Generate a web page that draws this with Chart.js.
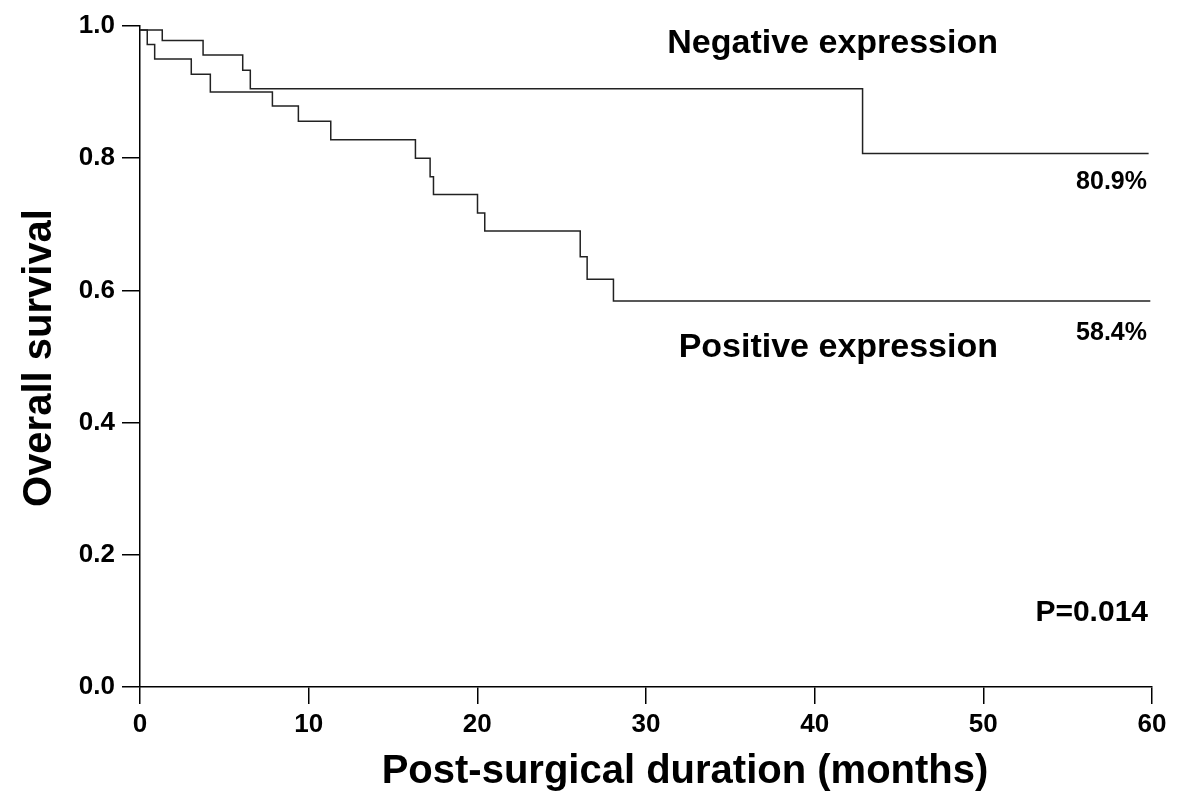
<!DOCTYPE html>
<html lang="en">
<head>
<meta charset="UTF-8">
<title>Overall survival</title>
<script src="https://cdn.jsdelivr.net/npm/chart.js"></script>
<style>
  body { margin: 0; background: #fff; }
  canvas { display: block; }
</style>
</head>
<body>
<canvas id="myChart" width="1183" height="802"></canvas>
<script>
    // Kaplan-Meier steps (months, survival fraction)
    const negTime = [0, 1.32, 3.74, 6.09, 6.54, 42.84, 59.8];
    const negSurv = [0.994, 0.978, 0.956, 0.933, 0.905, 0.807, 0.807];
    const posTime = [0, 0.43, 0.87, 3.04, 4.17, 7.85, 9.39, 11.31, 16.33, 17.20, 17.40, 20.01, 20.44, 26.10, 26.51, 28.07, 59.9];
    const posSurv = [0.994, 0.972, 0.950, 0.927, 0.900, 0.879, 0.856, 0.828, 0.800, 0.772, 0.745, 0.717, 0.690, 0.651, 0.617, 0.584, 0.584];

    const xTicks = [0, 10, 20, 30, 40, 50, 60];
    const yTicks = [0.0, 0.2, 0.4, 0.6, 0.8, 1.0];

    const FONT = '"Liberation Sans", Arial, sans-serif';

    function toPoints(t, s) {
        return t.map((v, i) => ({ x: v, y: s[i] }));
    }

    const labelPlugin = {
        id: 'labels',
        afterDraw(chart) {
            const ctx = chart.ctx;
            ctx.save();
            ctx.fillStyle = '#000';
            ctx.textBaseline = 'middle';

            ctx.font = 'bold 34px ' + FONT;
            ctx.textAlign = 'right';
            ctx.fillText('Negative expression', 998, 44);
            ctx.fillText('Positive expression', 998, 348);

            ctx.font = 'bold 25px ' + FONT;
            ctx.fillText('80.9%', 1147, 182);
            ctx.fillText('58.4%', 1147, 333);

            ctx.font = 'bold 30px ' + FONT;
            ctx.fillText('P=0.014', 1148, 613);

            // axis titles
            ctx.font = 'bold 40px ' + FONT;
            ctx.textAlign = 'center';
            ctx.fillText('Post-surgical duration (months)', 685, 772);

            ctx.save();
            ctx.translate(40, 358);
            ctx.rotate(-Math.PI / 2);
            ctx.fillText('Overall survival', 0, 0);
            ctx.restore();

            ctx.restore();
        }
    };

    const ctx = document.getElementById('myChart').getContext('2d');
    const survChart = new Chart(ctx, {
        type: 'line',
        data: {
            datasets: [{
                label: 'Negative expression',
                data: toPoints(negTime, negSurv),
                stepped: true,
                borderColor: '#222',
                borderWidth: 1.5,
                pointRadius: 0,
                fill: false
            }, {
                label: 'Positive expression',
                data: toPoints(posTime, posSurv),
                stepped: true,
                borderColor: '#222',
                borderWidth: 1.5,
                pointRadius: 0,
                fill: false
            }]
        },
        options: {
            responsive: false,
            animation: false,
            layout: { padding: { top: 26, right: 31, left: 0, bottom: 0 } },
            plugins: {
                legend: { display: false },
                tooltip: { enabled: false }
            },
            scales: {
                x: {
                    type: 'linear',
                    min: 0,
                    max: 60,
                    afterBuildTicks: (scale) => { scale.ticks = xTicks.map(v => ({ value: v })); },
                    afterFit: (scale) => { scale.height = 115; },
                    grid: { drawOnChartArea: false, tickLength: 17, color: '#000', lineWidth: 1.5 },
                    border: { color: '#000', width: 1.5 },
                    ticks: {
                        color: '#000',
                        padding: 5,
                        maxRotation: 0,
                        font: { family: FONT, size: 26, weight: 'bold' }
                    }
                },
                y: {
                    min: 0,
                    max: 1,
                    afterBuildTicks: (scale) => { scale.ticks = yTicks.map(v => ({ value: v })); },
                    afterFit: (scale) => { scale.width = 140; },
                    grid: { drawOnChartArea: false, tickLength: 18, color: '#000', lineWidth: 1.5 },
                    border: { color: '#000', width: 1.5 },
                    ticks: {
                        color: '#000',
                        padding: 7,
                        font: { family: FONT, size: 26, weight: 'bold' },
                        callback: (v) => Number(v).toFixed(1)
                    }
                }
            }
        },
        plugins: [labelPlugin]
    });
</script>
</body>
</html>
